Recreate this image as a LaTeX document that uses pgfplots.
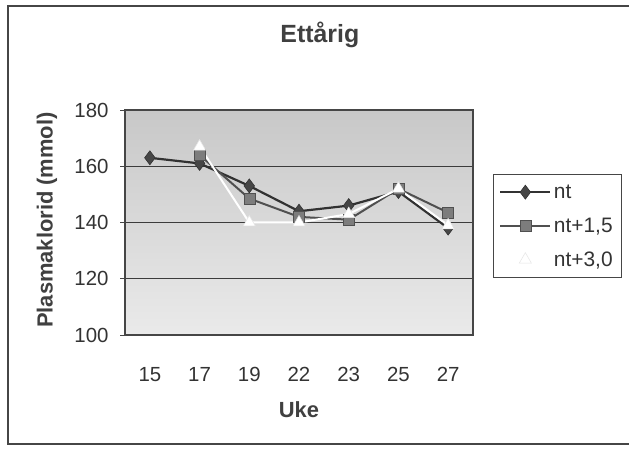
\documentclass[border=0pt]{standalone}
\usepackage{pgfplots}
\pgfplotsset{compat=1.18}
\usepackage{fontspec}
\setmainfont{Liberation Sans}

\definecolor{frame}{RGB}{70,70,70}
\definecolor{gridc}{RGB}{60,60,60}
\definecolor{ntline}{RGB}{50,50,50}
\definecolor{ntmark}{RGB}{70,70,70}
\definecolor{sqline}{RGB}{80,80,80}
\definecolor{sqmark}{RGB}{125,125,125}
\definecolor{bgtop}{RGB}{200,200,200}
\definecolor{bgbot}{RGB}{234,234,234}

% weekly plasma chloride, one row per week (index 0..6 = uke 15..27)
\pgfplotstableread{
idx nt
0 163
1 161
2 153
3 144
4 146
5 151
6 138
}\ntdata
\pgfplotstableread{
idx v
1 164
2 148.5
3 142
4 141
5 152
6 143.5
}\ntA
\pgfplotstableread{
idx v
1 167
2 140
3 140
4 143
5 152
6 139
}\ntB

\begin{document}
\begin{tikzpicture}[x=1bp,y=1bp]
\path[use as bounding box] (0,0) rectangle (629,453);
% chart frame (runs on past the right edge)
\draw[line width=2.2bp, frame] (640,447) -- (8,447) -- (8,9) -- (640,9);
\begin{axis}[
  at={(125bp,118bp)}, anchor=south west,
  scale only axis, width=348bp, height=225bp,
  xmin=-0.5, xmax=6.5, ymin=100, ymax=180,
  xtick={0,...,6},
  xticklabels={15,17,19,22,23,25,27},
  xtick style={draw=none},
  extra x ticks={-0.5,0.5,...,6.5},
  extra x tick labels={},
  extra x tick style={major tick length=5bp, tick align=outside, tick style={draw=frame, line width=0.8bp}},
  xtick pos=bottom, ytick pos=left,
  ytick={100,120,...,180},
  ytick style={draw=frame, line width=0.8bp},
  major tick length=5bp, tick align=outside,
  tick label style={font=\fontsize{20.5}{22}\selectfont, text=black!80},
  /pgf/number format/assume math mode=true,
  xticklabel style={anchor=base, yshift=-42bp},
  yticklabel style={anchor=east, xshift=-8bp},
  ymajorgrids,
  grid style={gridc, line width=1.2bp},
  axis line style={frame, line width=1.2bp},
  axis background/.style={top color=bgtop, bottom color=bgbot},
  title={Ettårig},
  title style={font=\bfseries\fontsize{25}{27}\selectfont, text=black!75, at={(0.56,1)}, anchor=base, yshift=62bp},
  xlabel={Uke},
  xlabel style={font=\bfseries\fontsize{22}{24}\selectfont, text=black!75, at={(0.5,0)}, anchor=base, yshift=-83bp},
  ylabel={Plasmaklorid (mmol)},
  ylabel style={font=\bfseries\fontsize{22}{24}\selectfont, text=black!75, at={(axis description cs:-0.224,0.511)}, anchor=center},
  legend style={at={(1.057,0.253)}, anchor=south west, draw=frame, line width=0.8bp,
    font=\fontsize{21}{23}\selectfont, text=black!80, row sep=14bp,
    inner xsep=6bp, inner ysep=8bp, nodes={inner xsep=2.5bp}},
  legend cell align=left,
  legend image code/.code={
    \draw[mark repeat=2, mark phase=2, #1] plot coordinates {(0bp,0bp) (25bp,0bp) (50bp,0bp)};
  },
]
\addplot[ntline, line width=2.2bp, mark=diamond*, mark size=7bp,
  mark options={fill=ntmark, draw=ntline, line width=0.6bp}] table[x=idx, y=nt] {\ntdata};
\addlegendentry{nt}
\addplot[sqline, line width=2bp, mark=square*, mark size=5.5bp,
  mark options={fill=sqmark, draw=sqline, line width=0.5bp}] table[x=idx, y=v] {\ntA};
\addlegendentry{nt+1,5}
\addplot[white, line width=2bp, mark=triangle*, mark size=7bp,
  mark options={fill=white, draw=gray!20, line width=0.5bp}] table[x=idx, y=v] {\ntB};
\addlegendentry{nt+3,0}
\end{axis}
\end{tikzpicture}
\end{document}
